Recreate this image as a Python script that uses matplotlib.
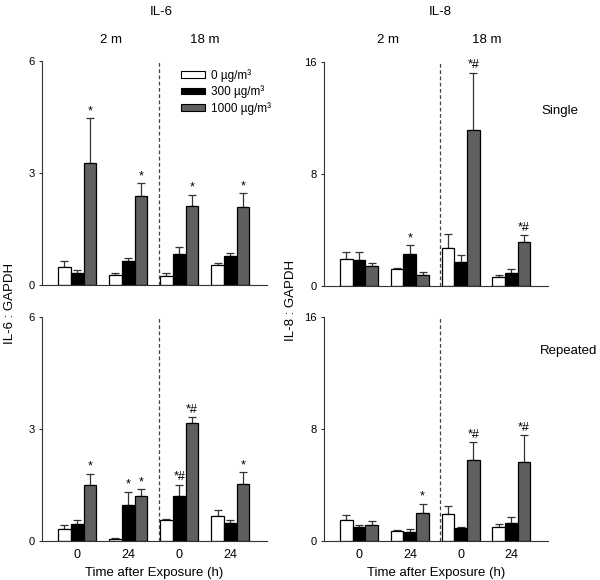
import matplotlib
matplotlib.use('Agg')
import numpy as np
import matplotlib.pyplot as plt
from matplotlib.patches import Patch

plt.rcParams['font.family'] = ['Liberation Sans', 'DejaVu Sans']
plt.rcParams['font.size'] = 9

# groups: 2 m / 0 h, 2 m / 24 h, 18 m / 0 h, 18 m / 24 h
time_labels = ['0', '24', '0', '24']
dose_labels = ['0 µg/m³', '300 µg/m³', '1000 µg/m³']
dose_colors = ['white', 'black', '#5f5f5f']

# IL-6 single exposure (mean, SEM) for 0, 300, 1000 ug/m3
il6_single_0 = [0.49, 0.26, 0.23, 0.54]
il6_single_0_err = [0.16, 0.07, 0.08, 0.04]
il6_single_300 = [0.31, 0.64, 0.82, 0.78]
il6_single_300_err = [0.09, 0.09, 0.19, 0.07]
il6_single_1000 = [3.27, 2.39, 2.12, 2.09]
il6_single_1000_err = [1.19, 0.33, 0.29, 0.37]

# IL-8 single exposure
il8_single_0 = [1.93, 1.19, 2.74, 0.67]
il8_single_0_err = [0.48, 0.07, 0.96, 0.09]
il8_single_300 = [1.86, 2.27, 1.72, 0.95]
il8_single_300_err = [0.55, 0.64, 0.50, 0.24]
il8_single_1000 = [1.45, 0.79, 11.13, 3.15]
il8_single_1000_err = [0.17, 0.24, 4.11, 0.47]

# IL-6 repeated exposure
il6_rep_0 = [0.33, 0.06, 0.57, 0.66]
il6_rep_0_err = [0.09, 0.01, 0.02, 0.16]
il6_rep_300 = [0.46, 0.96, 1.20, 0.49]
il6_rep_300_err = [0.09, 0.35, 0.31, 0.06]
il6_rep_1000 = [1.51, 1.21, 3.15, 1.53]
il6_rep_1000_err = [0.29, 0.17, 0.18, 0.31]

# IL-8 repeated exposure
il8_rep_0 = [1.50, 0.69, 1.93, 1.03]
il8_rep_0_err = [0.39, 0.07, 0.60, 0.16]
il8_rep_300 = [0.98, 0.64, 0.96, 1.27]
il8_rep_300_err = [0.17, 0.20, 0.04, 0.43]
il8_rep_1000 = [1.15, 2.01, 5.78, 5.64]
il8_rep_1000_err = [0.28, 0.66, 1.26, 1.91]

# significance marks: (group, dose index, text)
il6_single_marks = [(0, 2, '*'), (1, 2, '*'), (2, 2, '*'), (3, 2, '*')]
il8_single_marks = [(1, 1, '*'), (2, 2, '*#'), (3, 2, '*#')]
il6_rep_marks = [(0, 2, '*'), (1, 1, '*'), (1, 2, '*'), (2, 1, '*#'), (2, 2, '*#'), (3, 2, '*')]
il8_rep_marks = [(1, 2, '*'), (2, 2, '*#'), (3, 2, '*#')]

panels = [
    ([il6_single_0, il6_single_300, il6_single_1000],
     [il6_single_0_err, il6_single_300_err, il6_single_1000_err], il6_single_marks, 6),
    ([il8_single_0, il8_single_300, il8_single_1000],
     [il8_single_0_err, il8_single_300_err, il8_single_1000_err], il8_single_marks, 16),
    ([il6_rep_0, il6_rep_300, il6_rep_1000],
     [il6_rep_0_err, il6_rep_300_err, il6_rep_1000_err], il6_rep_marks, 6),
    ([il8_rep_0, il8_rep_300, il8_rep_1000],
     [il8_rep_0_err, il8_rep_300_err, il8_rep_1000_err], il8_rep_marks, 16),
]

fig = plt.figure(figsize=(6, 5.8), dpi=100)

# axes positions in pixels: left, top, width, height
W, H = 600, 580
boxes = [(42, 61, 225, 224), (324, 62, 224, 224), (42, 317, 225, 224), (324, 317, 224, 224)]

x = np.arange(4)
w = 0.25

for k, (vals, errs, marks, ymax) in enumerate(panels):
    l, t, bw, bh = boxes[k]
    ax = fig.add_axes([l / W, 1 - (t + bh) / H, bw / W, bh / H])
    for d in range(3):
        pos = x + (d - 1) * w
        ax.bar(pos, vals[d], width=w, color=dose_colors[d], edgecolor='black', linewidth=0.9, zorder=2)
        ax.errorbar(pos, vals[d], yerr=[np.zeros(4), errs[d]], fmt='none', ecolor='#333333',
                    elinewidth=0.9, capsize=3, capthick=0.9, zorder=1)
    for g, d, txt in marks:
        top = vals[d][g] + errs[d][g]
        ax.annotate(txt, (x[g] + (d - 1) * w, top), xytext=(0, 3), textcoords='offset points',
                    ha='center', va='baseline', fontsize=9)
    ax.axvline(1.6, color='#444444', linestyle=(0, (3, 2)), linewidth=0.9)
    ax.set_xlim(-0.69, 3.72)
    ax.set_ylim(0, ymax)
    ax.set_yticks([0, ymax / 2, ymax])
    ax.set_yticklabels(['0', str(int(ymax / 2)), str(ymax)])
    ax.spines['top'].set_visible(False)
    ax.spines['right'].set_visible(False)
    ax.spines['left'].set_color('#333333')
    ax.spines['bottom'].set_color('#333333')
    ax.tick_params(axis='y', direction='out', length=2.5, width=0.8, color='#333333', pad=3, labelsize=8)
    ax.tick_params(axis='x', length=0, pad=6, labelsize=9)
    if k < 2:
        ax.set_xticks([])
    else:
        ax.set_xticks(x)
        ax.set_xticklabels(time_labels)
        ax.set_xlabel('Time after Exposure (h)', fontsize=9.5, labelpad=4)
    if k == 0:
        handles = [Patch(facecolor=c, edgecolor='black', linewidth=0.8) for c in dose_colors]
        fig.legend(handles, dose_labels, loc='upper left', bbox_to_anchor=(181 / W, 1 - 69 / H),
                   frameon=False, borderpad=0, borderaxespad=0, handlelength=2.0, handleheight=0.45,
                   handletextpad=0.5, labelspacing=0.3, fontsize=8.5)

# headers
fig.text(161 / W, 1 - 12 / H, 'IL-6', ha='center', va='center', fontsize=9.5)
fig.text(440 / W, 1 - 12 / H, 'IL-8', ha='center', va='center', fontsize=9.5)
fig.text(111 / W, 1 - 40 / H, '2 m', ha='center', va='center', fontsize=9.5)
fig.text(205 / W, 1 - 40 / H, '18 m', ha='center', va='center', fontsize=9.5)
fig.text(388 / W, 1 - 40 / H, '2 m', ha='center', va='center', fontsize=9.5)
fig.text(487 / W, 1 - 40 / H, '18 m', ha='center', va='center', fontsize=9.5)
fig.text(560 / W, 1 - 111 / H, 'Single', ha='center', va='center', fontsize=9.5)
fig.text(569 / W, 1 - 351 / H, 'Repeated', ha='center', va='center', fontsize=9.5)
fig.text(10 / W, 1 - 303 / H, 'IL-6 : GAPDH', ha='center', va='center', rotation=90, fontsize=9.5)
fig.text(291 / W, 1 - 300 / H, 'IL-8 : GAPDH', ha='center', va='center', rotation=90, fontsize=9.5)

fig.savefig('out.png', dpi=100)
